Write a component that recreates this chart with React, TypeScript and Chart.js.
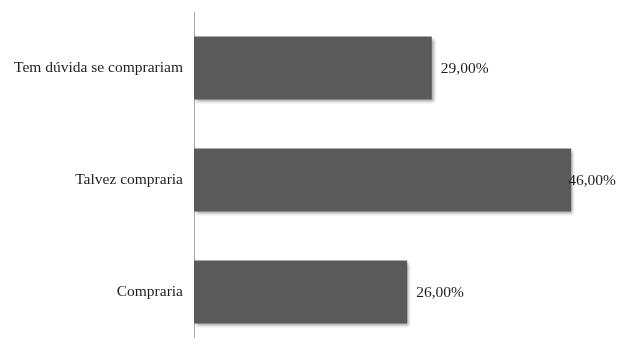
import React, { useEffect, useRef } from "react";
import { Chart, registerables } from "chart.js";

Chart.register(...registerables);

const categories = ["Tem dúvida se comprariam", "Talvez compraria", "Compraria"];
const values = [29, 46, 26];
const valueLabels = ["29,00%", "46,00%", "26,00%"];

const FONT = '"Liberation Serif", "Times New Roman", serif';

const shadowPlugin = {
  id: "barShadow",
  beforeDatasetsDraw(chart: any) {
    const ctx = chart.ctx;
    ctx.save();
    ctx.shadowColor = "rgba(0,0,0,0.35)";
    ctx.shadowOffsetX = 2;
    ctx.shadowOffsetY = 2;
    ctx.shadowBlur = 3;
  },
  afterDatasetsDraw(chart: any) {
    chart.ctx.restore();
  },
};

const labelPlugin = {
  id: "valueLabels",
  afterDatasetsDraw(chart: any) {
    const ctx = chart.ctx;
    const meta = chart.getDatasetMeta(0);
    ctx.save();
    ctx.font = "15.5px " + FONT;
    ctx.fillStyle = "#1e1e1e";
    ctx.textAlign = "left";
    ctx.textBaseline = "middle";
    meta.data.forEach((bar: any, i: number) => {
      const text = valueLabels[i];
      const w = ctx.measureText(text).width;
      const x = Math.min(bar.x + 9, chart.width - w - 1);
      ctx.fillText(text, x, bar.y + 1);
    });
    ctx.restore();
  },
};

export default function App() {
  const ref = useRef<HTMLCanvasElement>(null);
  useEffect(() => {
    if (!ref.current) return;
    const chart = new Chart(ref.current, {
      type: "bar",
      data: {
        labels: categories,
        datasets: [
          {
            data: values,
            backgroundColor: "#5a5a5a",
            borderWidth: 0,
            categoryPercentage: 1,
            barPercentage: 0.5625,
          },
        ],
      },
      options: {
        indexAxis: "y",
        animation: false,
        responsive: false,
        layout: { padding: { top: 12, bottom: 2, left: 0, right: 13 } },
        plugins: { legend: { display: false }, tooltip: { enabled: false } },
        scales: {
          x: { display: false, min: 0, max: 50 },
          y: {
            grid: { display: false, drawTicks: false },
            border: { display: true, color: "#a6a6a6", width: 1 },
            ticks: {
              padding: 11,
              color: "#1e1e1e",
              font: { family: FONT, size: 15.5 },
            },
            afterFit(scale: any) {
              scale.width = 194;
              scale.paddingTop = 0;
              scale.paddingBottom = 0;
            },
          },
        },
      },
      plugins: [shadowPlugin, labelPlugin],
    });
    return () => chart.destroy();
  }, []);
  return (
    <div
      style={{
        position: "absolute",
        top: 0,
        left: 0,
        width: 617,
        height: 338,
        overflow: "hidden",
        background: "#fff",
      }}
    >
      <canvas ref={ref} width={617} height={350} style={{ display: "block" }} />
    </div>
  );
}
